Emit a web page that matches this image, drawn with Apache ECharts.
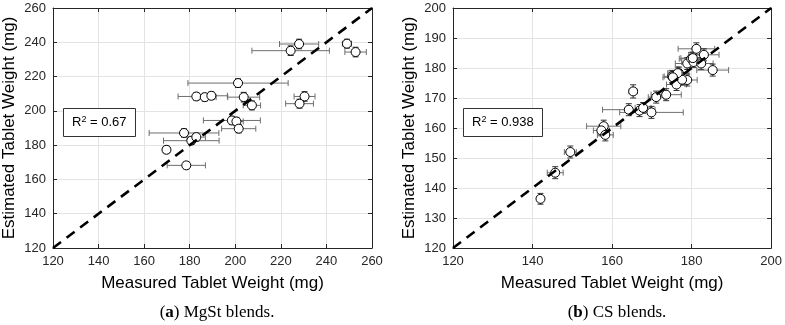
<!DOCTYPE html>
<html>
<head>
<meta charset="utf-8">
<script src="https://cdn.jsdelivr.net/npm/echarts@6/dist/echarts.min.js"></script>
<style>
  html, body { margin: 0; padding: 0; background: #fff; }
  #chart { width: 785px; height: 325px; }
</style>
</head>
<body>
<div id="chart"></div>
<script>
// (a) MgSt blends: measured vs estimated, with x/y error half-widths
const mgX    = [228.0, 224.3, 249.0, 252.8, 201.2, 182.9, 186.6, 189.5, 203.7, 207.3, 230.4, 228.2, 198.5, 200.5, 201.5, 177.5, 180.7, 182.9, 169.8, 178.5]
const mgY    = [239.0, 235.1, 239.2, 234.3, 216.2, 208.4, 208.0, 208.8, 208.0, 203.2, 208.4, 204.2, 194.4, 193.8, 189.6, 187.1, 182.6, 184.7, 177.3, 168.2]
const mgXErr = [8.6, 17.0, 2.0, 4.7, 22.0, 8.0, 5.0, 7.0, 7.0, 3.8, 4.6, 6.1, 12.5, 3.0, 7.5, 15.3, 12.2, 4.0, 1.5, 8.4]
const mgYErr = [2.8, 2.8, 2.6, 2.8, 2.5, 2.2, 2.2, 2.2, 2.8, 2.6, 2.8, 2.6, 2.4, 2.4, 2.4, 2.4, 2.2, 2.2, 2.2, 2.0]

// (b) CS blends
const csX    = [142.0, 145.7, 149.5, 157.9, 157.3, 158.3, 165.3, 164.2, 166.9, 167.8, 169.9, 171.1, 173.6, 175.1, 176.2, 176.8, 178.9, 177.6, 178.9, 179.9, 181.2, 183.1, 180.5, 182.4, 185.3, 176.5, 175.3, 180.3]
const csY    = [136.4, 145.1, 152.0, 160.6, 159.2, 157.7, 172.2, 166.1, 165.8, 166.7, 165.2, 170.3, 171.1, 177.2, 174.5, 178.3, 176.0, 176.1, 181.5, 183.1, 186.4, 184.4, 182.0, 181.5, 179.3, 178.3, 176.9, 183.3]
const csXErr = [0.8, 2.0, 1.5, 4.3, 2.0, 2.0, 1.0, 6.6, 2.0, 2.0, 8.0, 2.0, 3.8, 2.0, 2.5, 2.5, 2.5, 2.0, 3.0, 3.0, 4.6, 3.8, 3.0, 3.0, 4.0, 2.5, 2.5, 3.0]
const csYErr = [1.8, 2.0, 2.0, 2.0, 1.8, 2.0, 2.2, 2.0, 2.0, 1.8, 2.0, 2.0, 2.0, 2.0, 2.0, 2.0, 2.0, 1.8, 2.0, 2.0, 2.0, 2.0, 1.8, 2.0, 2.0, 2.0, 2.0, 2.0]

const mgRange = [120, 260]
const csRange = [120, 200]
const mgR2 = '0.67'
const csR2 = '0.938'

const xTitle = 'Measured Tablet Weight (mg)'
const yTitle = 'Estimated Tablet Weight (mg)'

const FONT = 'Liberation Sans, Arial, sans-serif'
const SERIF = 'Liberation Serif, DejaVu Serif, serif'
const AXIS_COLOR = '#262626'

const chart = echarts.init(document.getElementById('chart'))

function zip(xs, ys, xe, ye) {
  return xs.map((x, i) => [x, ys[i], xe[i], ye[i]])
}

// main axis (with labels) + mirrored axis (ticks only) for a boxed look
function axisPair(dim, gridIndex, range, interval, name) {
  const common = {
    gridIndex: gridIndex,
    type: 'value',
    min: range[0],
    max: range[1],
    interval: interval,
    axisLine: { show: true, lineStyle: { color: AXIS_COLOR, width: 1 } },
    axisTick: { show: true, inside: true, length: 4, lineStyle: { color: AXIS_COLOR } }
  }
  const main = Object.assign({}, common, {
    position: dim === 'x' ? 'bottom' : 'left',
    name: name,
    nameLocation: 'middle',
    nameGap: dim === 'x' ? 27 : 35,
    nameTextStyle: { fontFamily: FONT, fontSize: 17, color: '#000' },
    axisLabel: { fontFamily: FONT, fontSize: 13, color: AXIS_COLOR, margin: 7 },
    splitLine: { show: true, lineStyle: { color: '#e3e3e3', width: 1 } }
  })
  const mirror = Object.assign({}, common, {
    position: dim === 'x' ? 'top' : 'right',
    axisLabel: { show: false },
    splitLine: { show: false }
  })
  return [main, mirror]
}

function errorBars(params, api) {
  const x = api.value(0), y = api.value(1), xe = api.value(2), ye = api.value(3)
  const l = api.coord([x - xe, y]), r = api.coord([x + xe, y])
  const t = api.coord([x, y + ye]), b = api.coord([x, y - ye])
  const cap = 3
  const hStyle = { stroke: '#6e6e6e', lineWidth: 1 }
  const vStyle = { stroke: '#333', lineWidth: 1 }
  return {
    type: 'group',
    children: [
      { type: 'line', shape: { x1: l[0], y1: l[1], x2: r[0], y2: r[1] }, style: hStyle },
      { type: 'line', shape: { x1: l[0], y1: l[1] - cap, x2: l[0], y2: l[1] + cap }, style: hStyle },
      { type: 'line', shape: { x1: r[0], y1: r[1] - cap, x2: r[0], y2: r[1] + cap }, style: hStyle },
      { type: 'line', shape: { x1: t[0], y1: t[1], x2: b[0], y2: b[1] }, style: vStyle },
      { type: 'line', shape: { x1: t[0] - cap, y1: t[1], x2: t[0] + cap, y2: t[1] }, style: vStyle },
      { type: 'line', shape: { x1: b[0] - cap, y1: b[1], x2: b[0] + cap, y2: b[1] }, style: vStyle }
    ]
  }
}

function panelSeries(idx, data, range) {
  return [
    {
      type: 'custom',
      xAxisIndex: idx * 2,
      yAxisIndex: idx * 2,
      renderItem: errorBars,
      data: data,
      z: 2,
      silent: true
    },
    {
      type: 'scatter',
      xAxisIndex: idx * 2,
      yAxisIndex: idx * 2,
      data: data.map(d => [d[0], d[1]]),
      symbol: 'circle',
      symbolSize: 9,
      itemStyle: { color: '#fff', borderColor: '#000', borderWidth: 1, opacity: 1 },
      z: 3
    },
    {
      type: 'line',
      xAxisIndex: idx * 2,
      yAxisIndex: idx * 2,
      data: [[range[0], range[0]], [range[1], range[1]]],
      showSymbol: false,
      lineStyle: { color: '#000', width: 2.6, type: [10, 7] },
      z: 4,
      silent: true
    }
  ]
}

const r2Box = (left, value) => ({
  left: left,
  top: 108,
  text: '{n|R}{s|2}{n| = ' + value + '}',
  padding: [7, 9, 7, 9],
  borderColor: '#333',
  borderWidth: 1,
  backgroundColor: '#fff',
  textStyle: {
    fontWeight: 'normal',
    rich: {
      n: { fontFamily: FONT, fontSize: 13, fontWeight: 'normal', color: '#000', lineHeight: 15 },
      s: { fontFamily: FONT, fontSize: 9, fontWeight: 'normal', color: '#000', verticalAlign: 'top', lineHeight: 15, padding: [0, 0, 6, 0] }
    }
  }
})

const caption = (left, letter, rest) => ({
  left: left,
  top: 299,
  textAlign: 'center',
  text: '{p|(}{b|' + letter + '}{p|) ' + rest + '}',
  textStyle: {
    fontWeight: 'normal',
    rich: {
      p: { fontFamily: SERIF, fontSize: 17, fontWeight: 'normal', color: '#000' },
      b: { fontFamily: SERIF, fontSize: 17, fontWeight: 'bold', color: '#000' }
    }
  }
})

const xa = axisPair('x', 0, mgRange, 20, xTitle).concat(axisPair('x', 1, csRange, 20, xTitle))
const ya = axisPair('y', 0, mgRange, 20, yTitle).concat(axisPair('y', 1, csRange, 10, yTitle))

const option = {
  animation: false,
  title: [
    r2Box(63, mgR2),
    r2Box(463, csR2),
    caption(212, 'a', 'MgSt blends.'),
    caption(612, 'b', 'CS blends.')
  ],
  grid: [
    { left: 53, top: 8, width: 319, height: 240, show: true, borderColor: AXIS_COLOR, borderWidth: 0 },
    { left: 453, top: 8, width: 319, height: 240, show: true, borderColor: AXIS_COLOR, borderWidth: 0 }
  ],
  xAxis: xa,
  yAxis: ya,
  series: panelSeries(0, zip(mgX, mgY, mgXErr, mgYErr), mgRange)
    .concat(panelSeries(1, zip(csX, csY, csXErr, csYErr), csRange))
}

chart.setOption(option)
</script>
</body>
</html>
